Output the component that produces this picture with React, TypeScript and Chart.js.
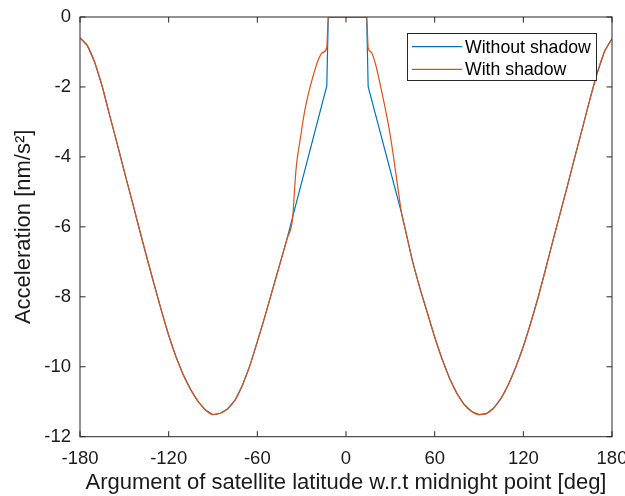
import React, { useEffect, useRef } from "react";
import { Chart, registerables } from "chart.js";

Chart.register(...registerables);

// ---- data ----
const xTicks = [-180, -120, -60, 0, 60, 120, 180];
const yTicks = [-12, -10, -8, -6, -4, -2, 0];

const seriesLabels = ["Without shadow", "With shadow"];

// common curve, left part (deg, nm/s^2)
const outerLeftAngles = [
  -180, -175, -170, -165, -160, -155, -150, -145, -140, -135, -130, -125, -120,
  -115, -110, -105, -100, -95, -90, -85, -80, -75, -70, -65, -60, -55, -50, -45,
  -40, -36,
];
const outerLeftAccel = [
  -0.6, -0.82, -1.3, -1.98, -2.8, -3.6, -4.42, -5.22, -6.04, -6.84, -7.62, -8.38,
  -9.1, -9.72, -10.24, -10.66, -11.0, -11.24, -11.37, -11.33, -11.2, -10.95,
  -10.52, -9.96, -9.28, -8.58, -7.84, -7.1, -6.36, -5.7,
];

// common curve, right part
const outerRightAngles = [
  37.6, 40, 45, 50, 55, 60, 65, 70, 75, 80, 85, 90, 95, 100, 105, 110, 115, 120,
  125, 130, 135, 140, 145, 150, 155, 160, 165, 170, 175, 180,
];
const outerRightAccel = [
  -5.61, -6.05, -6.98, -7.75, -8.45, -9.15, -9.78, -10.32, -10.76, -11.08,
  -11.28, -11.37, -11.34, -11.18, -10.9, -10.5, -10.0, -9.42, -8.75, -8.02,
  -7.22, -6.4, -5.6, -4.8, -3.98, -3.18, -2.36, -1.6, -0.98, -0.62,
];

// centre part, without shadow
const noShadowAngles = [-13, -12, 14, 15];
const noShadowAccel = [-1.97, 0, 0, -1.99];

// centre part, with shadow
const shadowAngles = [
  -35, -34, -33, -31, -28, -25, -22, -19, -16, -13, -12, 14, 15, 17, 20, 23, 26,
  29, 32, 35,
];
const shadowAccel = [
  -5.05, -4.45, -4.05, -3.5, -2.7, -2.12, -1.65, -1.25, -1.02, -0.88, 0, 0,
  -0.88, -1.0, -1.35, -1.9, -2.5, -3.15, -3.95, -4.85,
];

const BLUE = "#0072BD";
const ORANGE = "#D95319";
const AXIS = "#262626";
const FONT = "'Liberation Sans', Arial, Helvetica, sans-serif";

function toPoints(xs: number[], ys: number[]) {
  return xs.map((x, i) => ({ x, y: ys[i] }));
}

const withoutShadow = [
  ...toPoints(outerLeftAngles, outerLeftAccel),
  ...toPoints(noShadowAngles, noShadowAccel),
  ...toPoints(outerRightAngles, outerRightAccel),
];
const withShadow = [
  ...toPoints(outerLeftAngles, outerLeftAccel),
  ...toPoints(shadowAngles, shadowAccel),
  ...toPoints(outerRightAngles, outerRightAccel),
];

const boxPlugin = {
  id: "matlabBox",
  afterDatasetsDraw(chart: any) {
    const { ctx, chartArea: a, scales } = chart;
    ctx.save();
    ctx.strokeStyle = AXIS;
    ctx.lineWidth = 1;
    ctx.strokeRect(a.left, a.top, a.right - a.left, a.bottom - a.top);
    const tl = 5.5;
    ctx.beginPath();
    scales.x.ticks.forEach((t: any) => {
      const px = scales.x.getPixelForValue(t.value);
      ctx.moveTo(px, a.bottom);
      ctx.lineTo(px, a.bottom - tl);
      ctx.moveTo(px, a.top);
      ctx.lineTo(px, a.top + tl);
    });
    scales.y.ticks.forEach((t: any) => {
      const py = scales.y.getPixelForValue(t.value);
      ctx.moveTo(a.left, py);
      ctx.lineTo(a.left + tl, py);
      ctx.moveTo(a.right, py);
      ctx.lineTo(a.right - tl, py);
    });
    ctx.stroke();

    // legend box
    const bx = 407.5, by = 33.5, bw = 189, bh = 47;
    ctx.fillStyle = "#ffffff";
    ctx.fillRect(bx, by, bw, bh);
    ctx.strokeStyle = AXIS;
    ctx.strokeRect(bx, by, bw, bh);
    const rows = [46.7, 69.3];
    ctx.font = `17.7px ${FONT}`;
    ctx.textBaseline = "middle";
    ctx.textAlign = "left";
    chart.data.datasets.forEach((ds: any, i: number) => {
      const y = rows[i];
      ctx.strokeStyle = ds.borderColor;
      ctx.lineWidth = 1.2;
      ctx.beginPath();
      ctx.moveTo(412, y);
      ctx.lineTo(462, y);
      ctx.stroke();
      ctx.fillStyle = "#000000";
      ctx.fillText(ds.label, 465, y + 1);
    });
    ctx.restore();
  },
};

export default function App() {
  const ref = useRef<HTMLCanvasElement | null>(null);

  useEffect(() => {
    document.body.style.margin = "0";
    const canvas = ref.current;
    if (!canvas) return;
    const chart = new Chart(canvas, {
      type: "line",
      data: {
        datasets: [
          {
            label: seriesLabels[0],
            data: withoutShadow,
            borderColor: BLUE,
            backgroundColor: BLUE,
            borderWidth: 1.2,
            pointRadius: 0,
            tension: 0,
            order: 2,
          },
          {
            label: seriesLabels[1],
            data: withShadow,
            borderColor: ORANGE,
            backgroundColor: ORANGE,
            borderWidth: 1.2,
            pointRadius: 0,
            cubicInterpolationMode: "monotone",
            order: 1,
          },
        ],
      },
      options: {
        responsive: false,
        animation: false,
        devicePixelRatio: 1,
        layout: { padding: { top: 17, right: 13, left: 0, bottom: 0 } },
        plugins: {
          legend: { display: false },
          tooltip: { enabled: false },
        },
        scales: {
          x: {
            type: "linear",
            min: -180,
            max: 180,
            afterBuildTicks: (s: any) => {
              s.ticks = xTicks.map((v) => ({ value: v }));
            },
            afterFit: (s: any) => {
              s.height = 59.3;
              s.paddingLeft = 0;
              s.paddingRight = 0;
            },
            grid: { display: false, drawTicks: false },
            border: { display: false },
            ticks: {
              padding: 11,
              maxRotation: 0,
              autoSkip: false,
              color: "#1a1a1a",
              font: { family: FONT, size: 18.5 },
            },
            title: {
              display: true,
              text: "Argument of satellite latitude w.r.t midnight point [deg]",
              color: "#1a1a1a",
              font: { family: FONT, size: 22 },
              padding: { top: 0, bottom: 0 },
            },
          },
          y: {
            type: "linear",
            min: -12,
            max: 0,
            afterBuildTicks: (s: any) => {
              s.ticks = yTicks.map((v) => ({ value: v }));
            },
            afterFit: (s: any) => {
              s.width = 80;
              s.paddingTop = 0;
              s.paddingBottom = 0;
            },
            grid: { display: false, drawTicks: false },
            border: { display: false },
            ticks: {
              padding: 9,
              autoSkip: false,
              color: "#1a1a1a",
              font: { family: FONT, size: 18.5 },
            },
            title: {
              display: true,
              text: "Acceleration [nm/s²]",
              color: "#1a1a1a",
              font: { family: FONT, size: 22 },
              padding: { top: 11, bottom: 0 },
            },
          },
        },
      },
      plugins: [boxPlugin],
    } as any);
    return () => chart.destroy();
  }, []);

  return (
    <div style={{ width: 625, height: 496, position: "relative" }}>
      <canvas ref={ref} width={625} height={496} />
    </div>
  );
}
